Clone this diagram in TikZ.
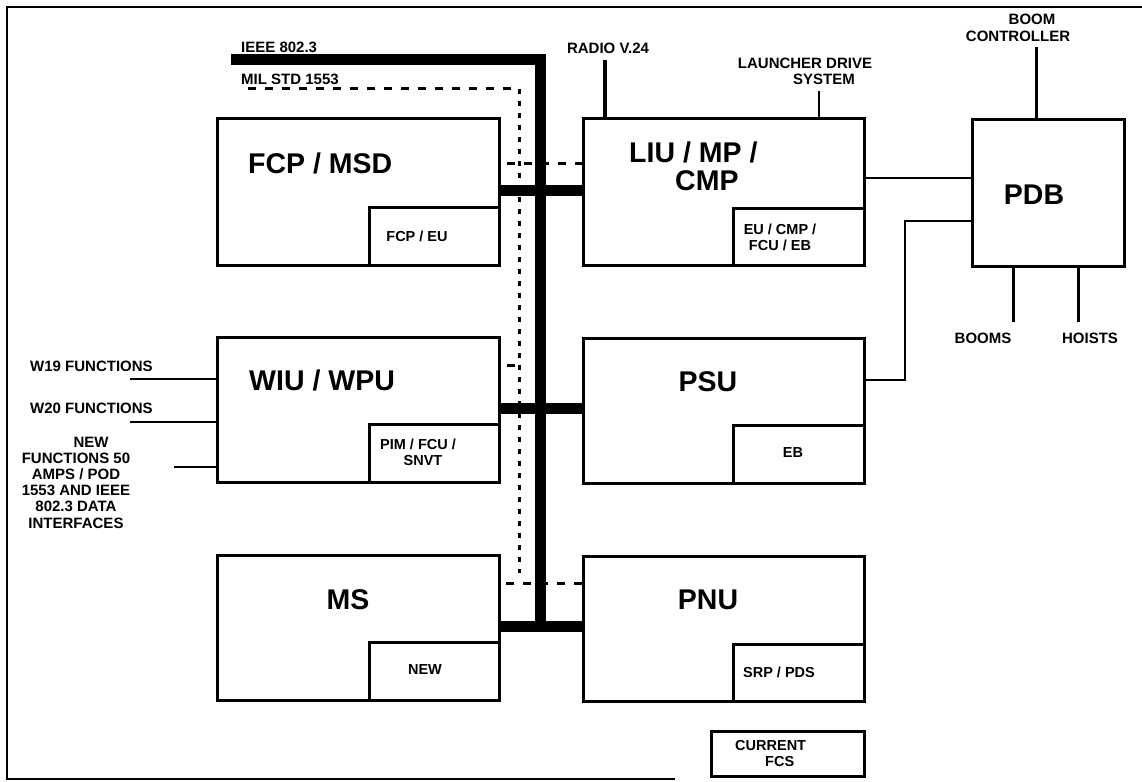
\documentclass[tikz,border=0pt]{standalone}
\usepackage{fontspec}
\setmainfont{Liberation Sans}
\begin{document}
\begin{tikzpicture}[x=1pt,y=-1pt,
  box/.style={draw, line width=3pt, inner sep=0pt, outer sep=0pt, anchor=north west},
  subbox/.style={draw, line width=3pt, inner sep=0pt, outer sep=0pt, anchor=south east},
  big/.style={font=\fontsize{28.5}{28}\selectfont\bfseries, inner sep=0pt, align=center},
  lab/.style={font=\fontsize{15}{16.5}\selectfont\bfseries, inner sep=0pt, align=center},
  sublab/.style={font=\fontsize{14.5}{16}\selectfont\bfseries, inner sep=0pt, align=center},
  bus/.style={line width=11pt},
  wire/.style={line width=2.8pt},
  radioline/.style={line width=4.5pt},
  mil/.style={line width=3pt, dash pattern=on 8pt off 9pt},
  milv/.style={line width=3pt, dash pattern=on 5pt off 7pt},
]
\useasboundingbox (0,0) rectangle (1142,781);
% frame
\draw[line width=2.4pt] (1142,7) -- (7,7) -- (7,779) -- (675,779);

% main boxes
\node[box, minimum width=282pt, minimum height=146pt] (fcp) at (217,119) {};
\node[subbox, minimum width=130pt, minimum height=58pt] (fcpsub) at (fcp.south east) {};
\node[box, minimum width=281pt, minimum height=146pt] (liu) at (583,119) {};
\node[subbox, minimum width=131pt, minimum height=57pt] (liusub) at (liu.south east) {};
\node[box, minimum width=152pt, minimum height=146pt] (pdb) at (972,120) {};
\node[box, minimum width=282pt, minimum height=145pt] (wiu) at (217,337) {};
\node[subbox, minimum width=130pt, minimum height=58pt] (wiusub) at (wiu.south east) {};
\node[box, minimum width=281pt, minimum height=145pt] (psu) at (583,338) {};
\node[subbox, minimum width=131pt, minimum height=58pt] (psusub) at (psu.south east) {};
\node[box, minimum width=282pt, minimum height=145pt] (ms) at (217,555) {};
\node[subbox, minimum width=130pt, minimum height=58pt] (mssub) at (ms.south east) {};
\node[box, minimum width=281pt, minimum height=145pt] (pnu) at (583,556) {};
\node[subbox, minimum width=131pt, minimum height=57pt] (pnusub) at (pnu.south east) {};
\node[box, minimum width=153pt, minimum height=45pt] (fcs) at (711,731) {};

% box texts
\node[big, anchor=west] (tfcp) at (248,163) {FCP / MSD};
\node[sublab] (tfcpsub) at (417,236) {FCP / EU};
\node[big, anchor=west, align=left] (tliu) at (629,166) {LIU / MP /\\\hspace*{46pt}CMP};
\node[sublab] (tliusub) at (780,237) {EU / CMP /\\FCU / EB};
\node[big] (tpdb) at (1034,195) {PDB};
\node[big, anchor=west] (twiu) at (249,380) {WIU / WPU};
\node[sublab] (twiusub) at (418,452) {PIM / FCU /\\\hspace*{10pt}SNVT};
\node[big] (tpsu) at (708,382) {PSU};
\node[sublab] (tpsusub) at (793,453) {EB};
\node[big] (tms) at (348,600) {MS};
\node[sublab] (tmssub) at (425,670) {NEW};
\node[big] (tpnu) at (708,600) {PNU};
\node[sublab] (tpnusub) at (779,672) {SRP / PDS};
\node[lab, anchor=west, align=left, font=\fontsize{14.5}{16}\selectfont\bfseries] (tfcs) at (735,753) {CURRENT\\\hspace*{30pt}FCS};

% outside labels
\node[lab, anchor=west] (lieee) at (241,47) {IEEE 802.3};
\node[lab, anchor=west] (lmil) at (241,79) {MIL STD 1553};
\node[lab] (lradio) at (608,48) {RADIO V.24};
\node[lab] (llaunch) at (805,71.5) {LAUNCHER DRIVE\\\hspace*{38pt}SYSTEM};
\node[lab] (lboom) at (1018,28) {\hspace*{28pt}BOOM\\CONTROLLER};
\node[lab] (lbooms) at (983,338) {BOOMS};
\node[lab] (lhoists) at (1090,338) {HOISTS};
\node[lab] (lw19) at (91.5,366) {W19 FUNCTIONS};
\node[lab] (lw20) at (91.5,408) {W20 FUNCTIONS};
\node[lab, font=\fontsize{15}{16.2}\selectfont\bfseries] (lnew) at (76,482.5) {\hspace*{30pt}NEW\\FUNCTIONS 50\\AMPS / POD\\1553 AND IEEE\\802.3 DATA\\INTERFACES};

% connector end points
\coordinate (ieeeStart) at (231,60);
\coordinate (busCorner) at (540,60);
\coordinate (busEnd) at (540,626);
\coordinate (milStart) at (248,89);
\coordinate (milCorner) at (519,89);
\coordinate (milEnd) at (519,573);
\coordinate (radioTop) at (605,60);
\coordinate (launchTop) at (819,91);
\coordinate (boomTop) at (1036,47);
\coordinate (psuBend) at (905,380);
\coordinate (pdbBend) at (905,221);
\coordinate (boomsEnd) at (1013,322);
\coordinate (hoistsEnd) at (1078,322);
\coordinate (w19End) at (130,379);
\coordinate (w20End) at (130,422);
\coordinate (newEnd) at (174,467);

% IEEE 802.3 bus
\draw[bus, line join=miter] (ieeeStart) -- (busCorner) -- (busEnd);
\draw[bus] (fcp.east |- 0,190) -- (liu.west |- 0,190);
\draw[bus] (wiu.east |- 0,408) -- (psu.west |- 0,408);
\draw[bus] (ms.east |- 0,626) -- (pnu.west |- 0,626);

% MIL STD 1553 bus
\draw[mil] (milStart) -- (milCorner);
\draw[milv] (milCorner) -- (milEnd);
\draw[mil] (507,163) -- (liu.west |- 0,163);
\draw[mil] (507,365) -- (519,365);
\draw[mil] (506,583) -- (pnu.west |- 0,583);

% other connectors
\draw[radioline] (radioTop) -- (radioTop |- liu.north);
\draw[wire] (launchTop) -- (launchTop |- liu.north);
\draw[line width=3pt] (boomTop) -- (boomTop |- pdb.north);
\draw[wire] (liu.east |- 0,178) -- (pdb.west |- 0,178);
\draw[wire] (psu.east |- psuBend) -- (psuBend) -- (pdbBend) -- (pdb.west |- pdbBend);
\draw[line width=3pt] (boomsEnd |- pdb.south) -- (boomsEnd);
\draw[line width=3pt] (hoistsEnd |- pdb.south) -- (hoistsEnd);
\draw[wire] (w19End) -- (wiu.west |- w19End);
\draw[wire] (w20End) -- (wiu.west |- w20End);
\draw[wire] (newEnd) -- (wiu.west |- newEnd);
\end{tikzpicture}
\end{document}
